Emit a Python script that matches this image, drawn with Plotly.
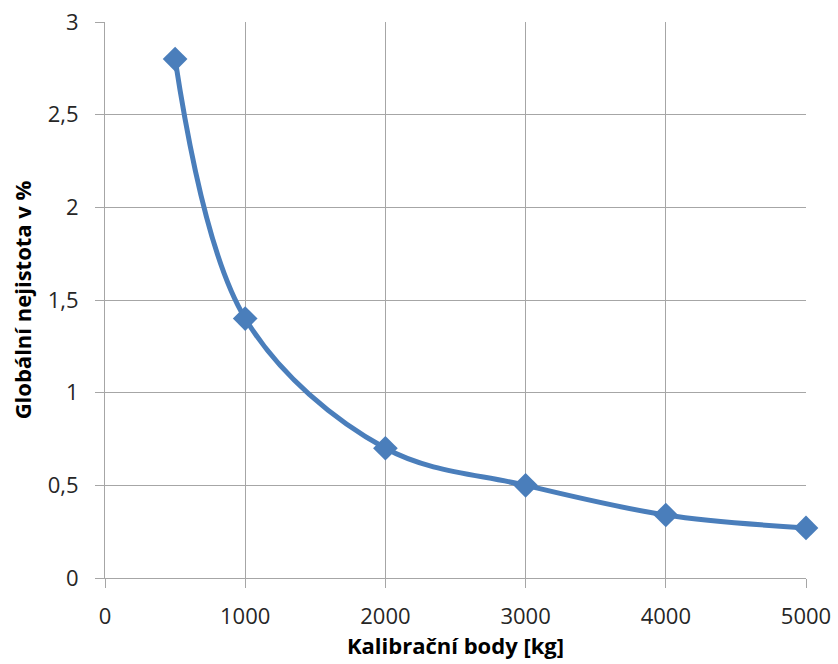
import plotly.graph_objects as go

kalibracni_body = [500, 1000, 2000, 3000, 4000, 5000]
nejistota = [2.8, 1.4, 0.7, 0.5, 0.34, 0.27]

x_ticks = [0, 1000, 2000, 3000, 4000, 5000]
y_ticks = [0, 0.5, 1, 1.5, 2, 2.5, 3]
y_ticktext = ["0", "0,5", "1", "1,5", "2", "2,5", "3"]

grid = "#a6a6a6"
blue = "#4a7ebb"
font_family = "Open Sans, Liberation Sans, sans-serif"

fig = go.Figure()
fig.add_trace(go.Scatter(
    x=kalibracni_body, y=nejistota,
    mode="lines+markers",
    line=dict(color=blue, width=5, shape="spline", smoothing=1.0),
    marker=dict(symbol="diamond", size=19, color=blue),
    showlegend=False, cliponaxis=False,
))

fig.update_layout(
    width=838, height=664,
    margin=dict(l=105, r=32, t=22, b=86, autoexpand=False),
    paper_bgcolor="white", plot_bgcolor="white",
    font=dict(family=font_family, color="#262626"),
)
fig.update_xaxes(
    range=[0, 5000], tickvals=x_ticks, ticktext=[str(v) for v in x_ticks],
    automargin=False,
    showgrid=True, gridcolor=grid, gridwidth=1,
    showline=True, linecolor=grid, linewidth=1,
    zeroline=False,
    ticks="outside", ticklen=9, tickcolor=grid,
    ticklabelstandoff=10,
    tickfont=dict(size=22, family=font_family, color="#262626"),
    title=dict(text="<b>Kalibrační body [kg]</b>", font=dict(size=22, family=font_family, color="#000"), standoff=6),
)
fig.update_yaxes(
    range=[0, 3], tickvals=y_ticks, ticktext=y_ticktext,
    automargin=False,
    showgrid=True, gridcolor=grid, gridwidth=1,
    showline=True, linecolor=grid, linewidth=1,
    zeroline=False,
    ticks="outside", ticklen=9, tickcolor=grid,
    ticklabelstandoff=12,
    tickfont=dict(size=22, family=font_family, color="#262626"),
    title=dict(text="<b>Globální nejistota v %</b>", font=dict(size=22, family=font_family, color="#000"), standoff=10),
)

fig.write_html("out.html")
